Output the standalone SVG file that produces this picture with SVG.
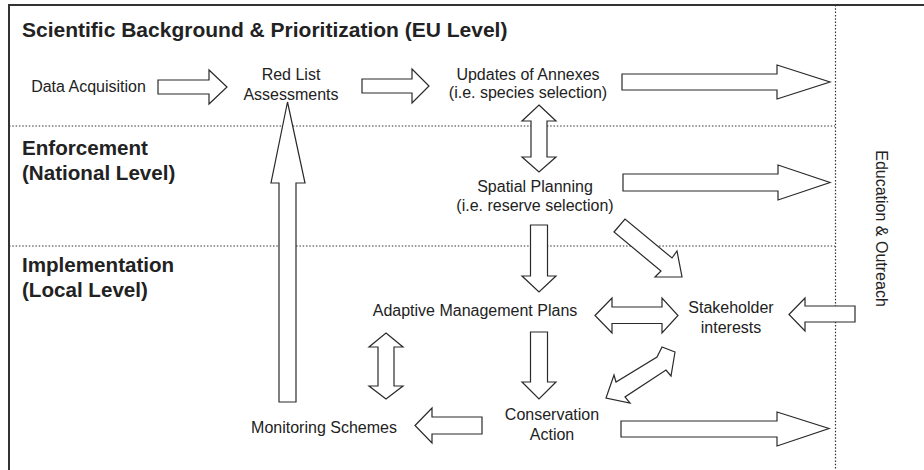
<svg xmlns="http://www.w3.org/2000/svg" width="924" height="470" viewBox="0 0 924 470">
<style>
  .t { font-family: "Liberation Sans", Arial, Helvetica, sans-serif; font-size: 16px; fill: #222; text-anchor: middle; }
  .h { font-family: "Liberation Sans", Arial, Helvetica, sans-serif; font-size: 20.6px; font-weight: bold; fill: #222; }
  .title { font-size: 21px; }
  .arr { fill: #fff; stroke: #2a2a2a; stroke-width: 1.2; stroke-linejoin: miter; }
  .frame { fill: none; stroke: #333; stroke-width: 2; }
  .dot { fill: none; stroke: #333; stroke-width: 1.2; stroke-dasharray: 1.5 1.8; }
</style>
<rect width="924" height="470" fill="#fff"/>

<g id="frame">
  <path class="frame" d="M9,470 V5 H924"/>
  <path class="dot" d="M835.5,5 V470"/>
  <path class="dot" d="M9,126 H835"/>
  <path class="dot" d="M9,246 H835"/>
</g>

<g id="headers">
  <text class="h title" x="22" y="37">Scientific Background &amp; Prioritization (EU Level)</text>
  <text class="h" x="22" y="155">Enforcement</text>
  <text class="h" x="22" y="180">(National Level)</text>
  <text class="h" x="22" y="272">Implementation</text>
  <text class="h" x="22" y="297">(Local Level)</text>
</g>

<g id="connectors">
  <polygon class="arr" points="158,80 209,80 209,70 227,87 209,104 209,94 158,94"/>
  <polygon class="arr" points="362,79 412,79 412,69 429,86 412,103 412,93 362,93"/>
  <polygon class="arr" points="622,74 777,74 777,65 830,82 777,99 777,90 622,90"/>
  <polygon class="arr" points="539,105 556,121 547,121 547,157 556,157 539,172 522,157 531,157 531,121 522,121"/>
  <polygon class="arr" points="623,174 778,174 778,165 830,182.5 778,200 778,191 623,191"/>
  <polygon class="arr" points="530.5,225 547.5,225 547.5,276 556,276 539,292 522,276 530.5,276"/>
  <polygon class="arr" points="614,232 625,219 672,258 677,251 682,277 655,277 661,271"/>
  <polygon class="arr" points="595,315.5 612,298 612,307 662,307 662,298 678,315.5 662,333 662,323.5 612,323.5 612,333"/>
  <polygon class="arr" points="789,314.5 805,298 805,306 855,306 855,322 805,322 805,331"/>
  <polygon class="arr" points="386,333 403,347 394,347 394,386 403,386 386,399 369,386 378,386 378,347 369,347"/>
  <polygon class="arr" points="287.5,102 305,183 296,183 296,402 279,402 279,183 271,183"/>
  <polygon class="arr" points="415,425.5 432,408 432,417 482,417 482,434 432,434 432,443"/>
  <polygon class="arr" points="530.5,332 547.5,332 547.5,382 556,382 539,399 522,382 530.5,382"/>
  <polygon class="arr" points="675,352 662,347 657,357 616,382 614,375 606,398 630,403 625,397 666,370 671,376"/>
  <polygon class="arr" points="621,421 777,421 777,412 829,428.5 777,446 777,437 621,437"/>
</g>

<g id="data-acquisition"><text class="t" x="88.5" y="92">Data Acquisition</text></g>
<g id="red-list"><text class="t" x="291" y="80">Red List</text><text class="t" x="291" y="99.5">Assessments</text></g>
<g id="updates-annexes"><text class="t" x="528" y="79.5">Updates of Annexes</text><text class="t" x="528" y="98">(i.e. species selection)</text></g>
<g id="spatial-planning"><text class="t" x="535" y="192">Spatial Planning</text><text class="t" x="535" y="211">(i.e. reserve selection)</text></g>
<g id="adaptive-management"><text class="t" x="475" y="316">Adaptive Management Plans</text></g>
<g id="stakeholder"><text class="t" x="731" y="313">Stakeholder</text><text class="t" x="731" y="333">interests</text></g>
<g id="monitoring"><text class="t" x="324" y="433">Monitoring Schemes</text></g>
<g id="conservation"><text class="t" x="552" y="420">Conservation</text><text class="t" x="552" y="440">Action</text></g>
<g id="education"><text class="t" transform="translate(876,228.5) rotate(90)" x="0" y="0">Education &amp; Outreach</text></g>
</svg>
